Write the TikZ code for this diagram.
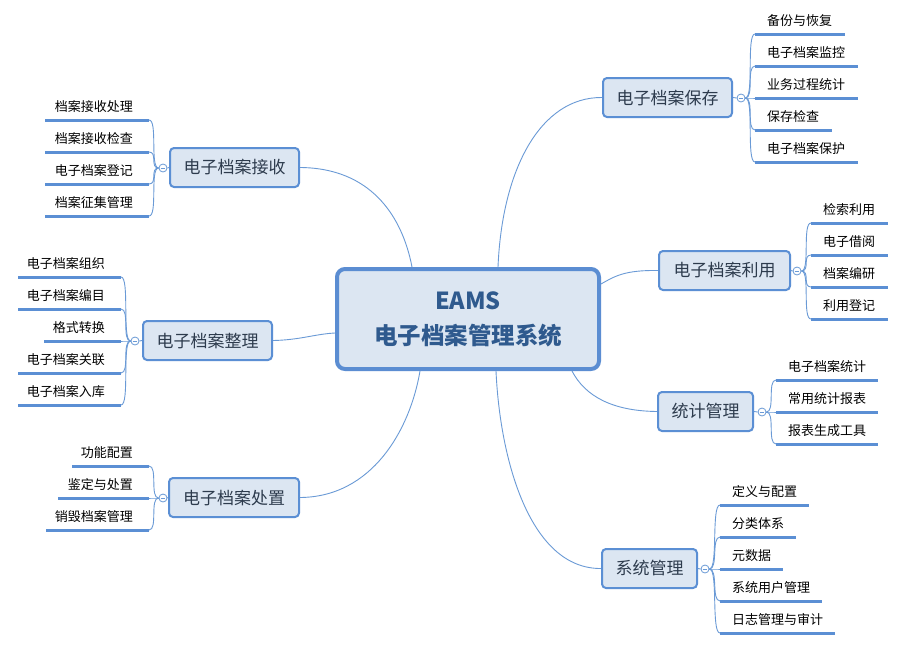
\documentclass[tikz,border=0pt]{standalone}
\usepackage{fontspec}
\setmainfont{Noto Sans CJK SC}
\usetikzlibrary{calc}
\definecolor{cfill}{HTML}{DCE6F2}
\definecolor{cblue}{HTML}{5B8DD2}
\definecolor{tblue}{HTML}{5B8FD4}
\definecolor{lblue}{HTML}{5B8FD4}
\definecolor{conblue}{HTML}{6A9AD6}
\definecolor{ctext}{HTML}{2F5A8E}
\definecolor{ttext}{HTML}{2D3B4D}
\tikzset{
 central/.style={draw=cblue, line width=4pt, fill=cfill, rounded corners=8pt, minimum width=262pt, minimum height=100pt, inner sep=0pt, text=ctext, font=\bfseries\fontsize{23.5}{35}\selectfont, align=center},
 topic/.style={draw=tblue, line width=2pt, fill=cfill, rounded corners=4pt, minimum height=39pt, inner sep=0pt, text=ttext, font=\fontsize{17}{20}\selectfont},
 leaf/.style={font=\fontsize{13}{15}\selectfont, inner sep=0pt, text=black},
 uline/.style={draw=lblue, line width=3pt},
 conn/.style={draw=conblue, line width=0.9pt},
 fold/.style={circle, draw=conblue, fill=white, line width=0.8pt, minimum size=8pt, inner sep=0pt,
   path picture={\draw[conblue, line width=0.6pt] ($(path picture bounding box.center)+(-2.3pt,0)$) -- ++(4.6pt,0);}},
}
\newcommand{\leafR}[5]{\coordinate (#1) at (#2,#3); \draw[uline] (#1) -- ++(#4,0); \node[leaf,anchor=west] (#1t) at (#2+12,#3-13) {#5};}
\newcommand{\leafL}[5]{\coordinate (#1) at (#2,#3); \draw[uline] (#1) -- ++(-#4,0); \node[leaf,anchor=east] (#1t) at (#2-16,#3-13) {#5};}
\begin{document}
\begin{tikzpicture}[x=1pt,y=-1pt]
\useasboundingbox (0,0) rectangle (909,645);
\fill[white] (0,0) rectangle (909,645);

% central
\node[central] (c) at (468,319) {EAMS\\电子档案管理系统};
\coordinate (cA) at (498,267);
\coordinate (cB) at (601,284);
\coordinate (cC) at (572,371);
\coordinate (cD) at (496,371);
\coordinate (cE) at (412,267);
\coordinate (cF) at (335,333);
\coordinate (cG) at (420,371);

% topics
\node[topic, minimum width=129pt] (t1) at (667.5,97.5) {电子档案保存};
\node[topic, minimum width=131pt] (t2) at (724.5,270.5) {电子档案利用};
\node[topic, minimum width=95pt] (t3) at (705.5,411.5) {统计管理};
\node[topic, minimum width=95pt] (t4) at (649.5,568.5) {系统管理};
\node[topic, minimum width=129pt] (t5) at (234.5,167.5) {电子档案接收};
\node[topic, minimum width=129pt] (t6) at (207.5,340.5) {电子档案整理};
\node[topic, minimum width=130pt] (t7) at (234,497.5) {电子档案处置};

% connectors centre-topic
\draw[conn] (t1.west) .. controls (540,97) and (502,170) .. (cA);
\draw[conn] (t2.west) .. controls (625,270) and (615,276) .. (cB);
\draw[conn] (t3.west) .. controls (612,411) and (585,396) .. (cC);
\draw[conn] (t4.west) .. controls (530,569) and (500,460) .. (cD);
\draw[conn] (t5.east) .. controls (370,168) and (402,215) .. (cE);
\draw[conn] (t6.east) .. controls (300,340) and (315,334) .. (cF);
\draw[conn] (t7.east) .. controls (372,497) and (410,430) .. (cG);

% fold circles
\node[fold] (f1) at (741,98) {};
\node[fold] (f2) at (797,271) {};
\node[fold] (f3) at (762,412) {};
\node[fold] (f4) at (705,569) {};
\node[fold] (f5) at (163,168) {};
\node[fold] (f6) at (135,341) {};
\node[fold] (f7) at (163,498) {};
\draw[conn] (t1.east) -- (f1.west);
\draw[conn] (t2.east) -- (f2.west);
\draw[conn] (t3.east) -- (f3.west);
\draw[conn] (t4.east) -- (f4.west);
\draw[conn] (t5.west) -- (f5.east);
\draw[conn] (t6.west) -- (f6.east);
\draw[conn] (t7.west) -- (f7.east);

% leaves: 电子档案保存
\leafR{a1}{755}{34}{90}{备份与恢复}
\leafR{a2}{755}{66}{103}{电子档案监控}
\leafR{a3}{755}{98}{103}{业务过程统计}
\leafR{a4}{755}{130}{77}{保存检查}
\leafR{a5}{755}{162}{103}{电子档案保护}
\foreach \n in {a1,a2,a3,a4,a5} \draw[conn] (f1.east) .. controls +(9,0) and +(-9,0) .. (\n);

% 电子档案利用
\leafR{b1}{811}{223}{77}{检索利用}
\leafR{b2}{811}{255}{77}{电子借阅}
\leafR{b3}{811}{287}{77}{档案编研}
\leafR{b4}{811}{319}{77}{利用登记}
\foreach \n in {b1,b2,b3,b4} \draw[conn] (f2.east) .. controls +(9,0) and +(-9,0) .. (\n);

% 统计管理
\leafR{s1}{776}{380}{102}{电子档案统计}
\leafR{s2}{776}{412}{102}{常用统计报表}
\leafR{s3}{776}{444}{102}{报表生成工具}
\foreach \n in {s1,s2,s3} \draw[conn] (f3.east) .. controls +(9,0) and +(-9,0) .. (\n);

% 系统管理
\leafR{d1}{720}{505}{89}{定义与配置}
\leafR{d2}{720}{537}{76}{分类体系}
\leafR{d3}{720}{569}{63}{元数据}
\leafR{d4}{720}{601}{102}{系统用户管理}
\leafR{d5}{720}{633}{115}{日志管理与审计}
\foreach \n in {d1,d2,d3,d4,d5} \draw[conn] (f4.east) .. controls +(9,0) and +(-9,0) .. (\n);

% 电子档案接收
\leafL{e1}{149}{120}{104}{档案接收处理}
\leafL{e2}{149}{152}{104}{档案接收检查}
\leafL{e3}{149}{184}{104}{电子档案登记}
\leafL{e4}{149}{216}{104}{档案征集管理}
\foreach \n in {e1,e2,e3,e4} \draw[conn] (f5.west) .. controls +(-9,0) and +(9,0) .. (\n);

% 电子档案整理
\leafL{g1}{121}{277}{103}{电子档案组织}
\leafL{g2}{121}{309}{103}{电子档案编目}
\leafL{g3}{121}{341}{77}{格式转换}
\leafL{g4}{121}{373}{103}{电子档案关联}
\leafL{g5}{121}{405}{103}{电子档案入库}
\foreach \n in {g1,g2,g3,g4,g5} \draw[conn] (f6.west) .. controls +(-9,0) and +(9,0) .. (\n);

% 电子档案处置
\leafL{h1}{149}{466}{77}{功能配置}
\leafL{h2}{149}{498}{91}{鉴定与处置}
\leafL{h3}{149}{530}{103}{销毁档案管理}
\foreach \n in {h1,h2,h3} \draw[conn] (f7.west) .. controls +(-9,0) and +(9,0) .. (\n);
\end{tikzpicture}
\end{document}
